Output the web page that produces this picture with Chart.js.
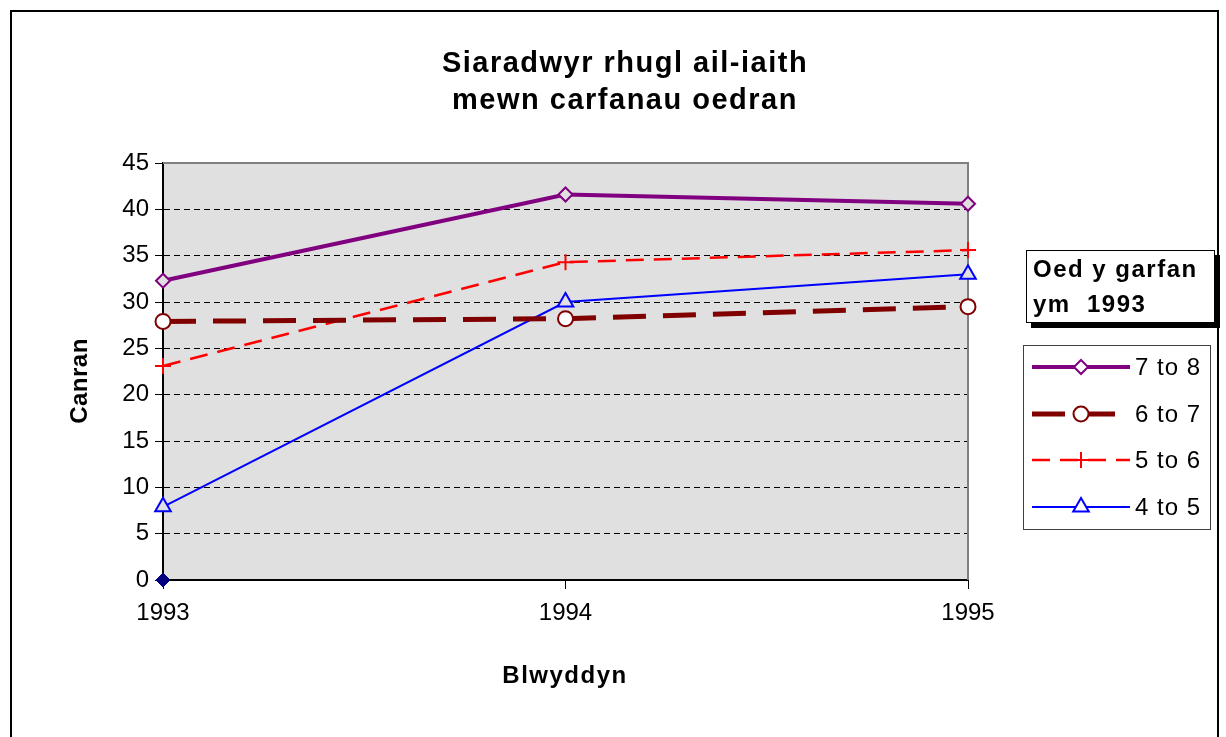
<!DOCTYPE html>
<html>
<head>
<meta charset="utf-8">
<script src="https://cdn.jsdelivr.net/npm/chart.js@4.4.0/dist/chart.umd.min.js"></script>
<style>
html, body { margin: 0; padding: 0; background: #fff; }
#wrap { position: relative; width: 1226px; height: 737px; }
</style>
</head>
<body>
<div id="wrap"><canvas id="lineChart" width="1226" height="737"></canvas></div>
<script>
// data
var years = ['1993', '1994', '1995']
var seriesNames = ['7 to 8', '6 to 7', '5 to 6', '4 to 5']
var age7to8 = [32.3, 41.6, 40.6]
var age6to7 = [27.9, 28.2, 29.5]
var age5to6 = [23.1, 34.3, 35.6]
var age4to5 = [7.9, 30.0, 33.0]
var baseSeries = [0, null, null]
var yMin = 0, yMax = 45, yStep = 5

var FONT = "'Liberation Sans', Arial, sans-serif"
var plotBg = '#E0E0E0'

function marker(ctx, style, x, y, r, stroke, fill, lw) {
	ctx.save()
	ctx.lineWidth = lw
	ctx.strokeStyle = stroke
	ctx.fillStyle = fill
	ctx.setLineDash([])
	ctx.beginPath()
	if (style == 'rectRot') {
		ctx.moveTo(x, y - r); ctx.lineTo(x + r, y); ctx.lineTo(x, y + r); ctx.lineTo(x - r, y); ctx.closePath()
		ctx.fill(); ctx.stroke()
	} else if (style == 'circle') {
		ctx.arc(x, y, r, 0, Math.PI * 2)
		ctx.fill(); ctx.stroke()
	} else if (style == 'cross') {
		ctx.moveTo(x - r, y); ctx.lineTo(x + r, y); ctx.moveTo(x, y - r); ctx.lineTo(x, y + r)
		ctx.stroke()
	} else if (style == 'triangle') {
		var h = r * Math.sqrt(3) / 2
		ctx.moveTo(x, y - r); ctx.lineTo(x + h, y + r / 2); ctx.lineTo(x - h, y + r / 2); ctx.closePath()
		ctx.fill(); ctx.stroke()
	}
	ctx.restore()
}

var decorPlugin = {
	id: 'decor',
	beforeDraw: function (chart) {
		var ctx = chart.ctx, a = chart.chartArea
		ctx.save()
		ctx.fillStyle = '#fff'
		ctx.fillRect(0, 0, chart.width, chart.height)
		ctx.fillStyle = plotBg
		ctx.fillRect(a.left, a.top, a.right - a.left, a.bottom - a.top)
		ctx.restore()
	},
	beforeDatasetsDraw: function (chart) {
		var ctx = chart.ctx, a = chart.chartArea
		ctx.save()
		ctx.strokeStyle = '#808080'
		ctx.lineWidth = 2
		ctx.beginPath()
		ctx.moveTo(a.left, a.top); ctx.lineTo(a.right, a.top); ctx.lineTo(a.right, a.bottom)
		ctx.stroke()
		ctx.restore()
	},
	afterDraw: function (chart) {
		var ctx = chart.ctx
		ctx.save()
		// outer frame
		ctx.strokeStyle = '#000'
		ctx.lineWidth = 2
		ctx.strokeRect(11, 11, 1207, 740)

		// title
		ctx.fillStyle = '#000'
		ctx.textAlign = 'center'
		ctx.textBaseline = 'alphabetic'
		ctx.font = 'bold 29px ' + FONT
		ctx.letterSpacing = '1.5px'
		ctx.fillText('Siaradwyr rhugl ail-iaith', 625, 72)
		ctx.fillText('mewn carfanau oedran', 625, 109)

		// axis titles
		ctx.font = 'bold 24px ' + FONT
		ctx.fillText('Blwyddyn', 565, 683)
		ctx.save()
		ctx.translate(80, 381)
		ctx.rotate(-Math.PI / 2)
		ctx.textBaseline = 'middle'
		ctx.letterSpacing = '0.5px'
		ctx.fillText('Canran', 0, 0)
		ctx.restore()

		// legend title box
		ctx.fillStyle = '#000'
		ctx.fillRect(1031, 255, 189, 73)
		ctx.fillStyle = '#fff'
		ctx.fillRect(1026, 250, 189, 73)
		ctx.lineWidth = 1
		ctx.strokeRect(1026.5, 250.5, 188, 72)
		ctx.fillStyle = '#000'
		ctx.textAlign = 'left'
		ctx.font = 'bold 24px ' + FONT
		ctx.fillText('Oed y garfan', 1033, 277)
		ctx.fillText('ym  1993', 1033, 312)

		// legend
		ctx.strokeStyle = '#404040'
		ctx.strokeRect(1023.5, 345.5, 187, 184)
		ctx.font = '24px ' + FONT
		ctx.letterSpacing = '1px'
		ctx.textBaseline = 'middle'
		var rows = [367, 414, 460, 507]
		for (var i = 0; i < seriesNames.length; i++) {
			var ds = chart.data.datasets[i]
			var y = rows[i]
			ctx.save()
			ctx.strokeStyle = ds.borderColor
			ctx.lineWidth = ds.borderWidth
			ctx.setLineDash(ds.borderDash || [])
			ctx.beginPath()
			ctx.moveTo(1032, y); ctx.lineTo(1130, y)
			ctx.stroke()
			ctx.restore()
			marker(ctx, ds.pointStyle, 1081, y, ds.pointRadius, ds.pointBorderColor, '#fff', ds.pointBorderWidth)
			ctx.fillStyle = '#000'
			ctx.fillText(seriesNames[i], 1135, y + 1)
		}
		ctx.restore()
	}
}

var ctxL = document.getElementById('lineChart').getContext('2d')
var myLineChart = new Chart(ctxL, {
	type: 'line',
	data: {
		labels: years,
		datasets: [{
			label: seriesNames[0],
			data: age7to8,
			borderColor: '#800080',
			borderWidth: 4,
			pointStyle: 'rectRot',
			pointRadius: 7,
			pointBorderColor: '#800080',
			pointBackgroundColor: plotBg,
			pointBorderWidth: 2
		}, {
			label: seriesNames[1],
			data: age6to7,
			borderColor: '#800000',
			borderWidth: 5,
			borderDash: [33, 17],
			pointStyle: 'circle',
			pointRadius: 7.5,
			pointBorderColor: '#800000',
			pointBackgroundColor: '#fff',
			pointBorderWidth: 2
		}, {
			label: seriesNames[2],
			data: age5to6,
			borderColor: '#FF0000',
			borderWidth: 2.5,
			borderDash: [18, 10],
			pointStyle: 'cross',
			pointRadius: 8,
			pointBorderColor: '#FF0000',
			pointBackgroundColor: '#FF0000',
			pointBorderWidth: 2
		}, {
			label: seriesNames[3],
			data: age4to5,
			borderColor: '#0000FF',
			borderWidth: 2,
			pointStyle: 'triangle',
			pointRadius: 9,
			pointBorderColor: '#0000FF',
			pointBackgroundColor: plotBg,
			pointBorderWidth: 2
		}, {
			label: 'base',
			data: baseSeries,
			showLine: false,
			borderColor: '#000080',
			pointStyle: 'rectRot',
			pointRadius: 7,
			pointBorderColor: '#000080',
			pointBackgroundColor: '#000080',
			pointBorderWidth: 1
		}].map(function (d) { d.tension = 0; d.clip = false; d.fill = false; return d })
	},
	options: {
		responsive: false,
		animation: false,
		events: [],
		layout: { padding: { left: 0, top: 163, right: 258, bottom: 0 } },
		plugins: {
			legend: { display: false },
			title: { display: false },
			tooltip: { enabled: false }
		},
		scales: {
			x: {
				type: 'category',
				offset: false,
				grid: { display: true, drawOnChartArea: false, drawTicks: true, tickLength: 9, tickColor: '#000', tickWidth: 1 },
				border: { display: true, color: '#000', width: 2 },
				ticks: { color: '#000', font: { family: FONT, size: 24 }, padding: 10, maxRotation: 0, autoSkip: false },
				afterFit: function (s) { s.height = 157 }
			},
			y: {
				min: yMin,
				max: yMax,
				grid: {
					color: function (c) { return (c.tick && (c.tick.value == yMin || c.tick.value == yMax)) ? 'rgba(0,0,0,0)' : '#000' },
					lineWidth: 1,
					drawTicks: true,
					tickLength: 8,
					tickColor: '#000',
					tickWidth: 1
				},
				border: { display: true, color: '#000', width: 2, dash: [6, 4] },
				ticks: { stepSize: yStep, color: '#000', font: { family: FONT, size: 24 }, padding: 6 },
				afterFit: function (s) { s.width = 163 }
			}
		}
	},
	plugins: [decorPlugin]
})
</script>
</body>
</html>
